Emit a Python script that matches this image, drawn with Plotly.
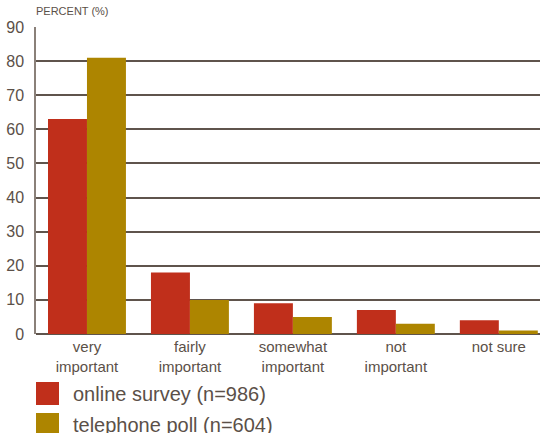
import plotly.graph_objects as go

categories = ["very<br>important", "fairly<br>important", "somewhat<br>important", "not<br>important", "not sure"]
online_survey = [63, 18, 9, 7, 4]
telephone_poll = [81, 10, 5, 3, 1]
series_names = ["online survey (n=986)", "telephone poll (n=604)"]
y_ticks = [0, 10, 20, 30, 40, 50, 60, 70, 80, 90]

RED = "#c02f1b"
GOLD = "#ad8500"
INK = "#5b5048"
GRID = "#5f544c"
FONT = "Liberation Sans, Arial, sans-serif"

fig = go.Figure()
fig.add_trace(go.Bar(x=categories, y=online_survey, name=series_names[0],
                     marker=dict(color=RED, line=dict(width=0)), showlegend=False))
fig.add_trace(go.Bar(x=categories, y=telephone_poll, name=series_names[1],
                     marker=dict(color=GOLD, line=dict(width=0)), showlegend=False))

fig.update_layout(
    width=540, height=433,
    margin=dict(l=36, r=0, t=27, b=99),
    paper_bgcolor="white", plot_bgcolor="white",
    barmode="group", bargap=0.243, bargroupgap=0,
    font=dict(family=FONT, color=INK),
    xaxis=dict(
        range=[-0.495, 4.4], showgrid=False, zeroline=False,
        showline=False, ticks="", tickfont=dict(size=15, color=INK),
        ticklabelstandoff=2,
    ),
    yaxis=dict(
        range=[0, 90], tickvals=y_ticks, showgrid=True, gridcolor=GRID, gridwidth=1.5,
        zeroline=True, zerolinecolor=GRID, zerolinewidth=1.5,
        showline=True, linecolor="#8a8079", linewidth=1.5,
        ticks="", tickfont=dict(size=16, color=INK), ticklabelstandoff=7,
        layer="below traces",
    ),
)

# axis caption
fig.add_annotation(text="PERCENT (%)", xref="paper", yref="paper", x=-0.003, y=1.0,
                   yshift=8, xanchor="left", yanchor="bottom", showarrow=False,
                   font=dict(size=11, color=INK, family=FONT))

# legend: large square keys with labels beneath the chart
plot_h = 433 - 27 - 99
plot_w = 540 - 36
legend_colors = [RED, GOLD]
for i, (name, col) in enumerate(zip(series_names, legend_colors)):
    top_px = 382 + 31 * i
    y0 = 1 - (top_px - 27) / plot_h
    y1 = 1 - (top_px + 23 - 27) / plot_h
    fig.add_shape(type="rect", xref="paper", yref="paper",
                  x0=0, x1=23 / plot_w, y0=y1, y1=y0,
                  fillcolor=col, line=dict(width=0))
    fig.add_annotation(text=name, xref="paper", yref="paper",
                       x=35 / plot_w, y=(y0 + y1) / 2, xanchor="left", yanchor="middle",
                       showarrow=False, font=dict(size=20, color=INK, family=FONT))

fig.write_html("out.html")
